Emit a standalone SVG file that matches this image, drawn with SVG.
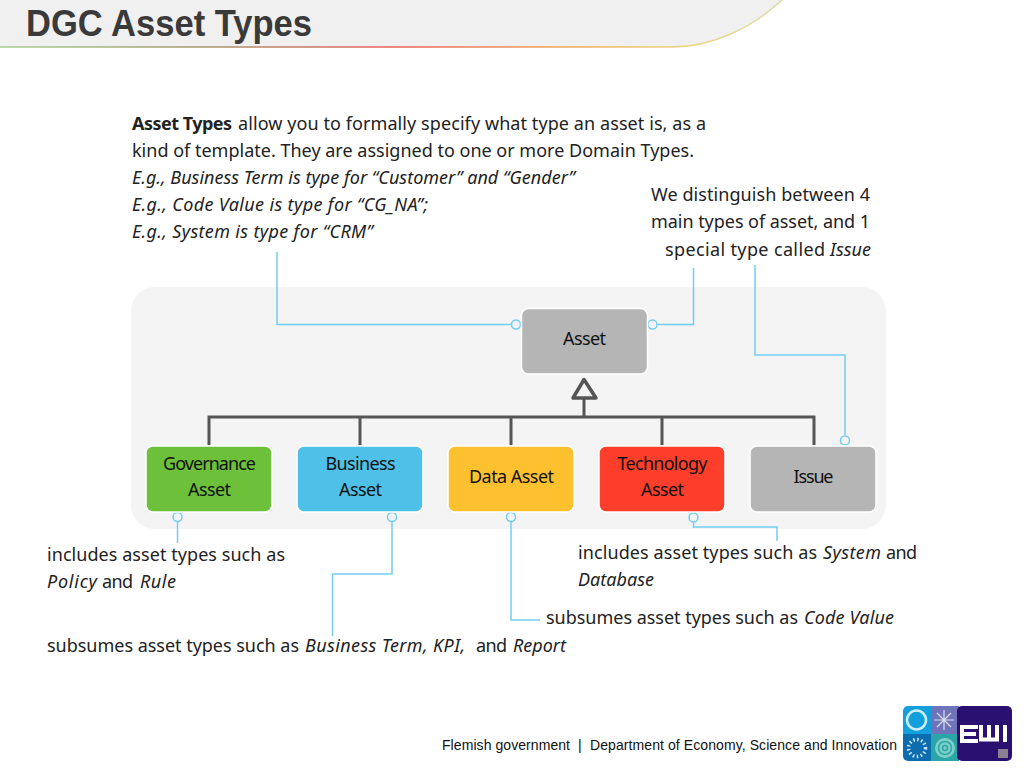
<svg xmlns="http://www.w3.org/2000/svg" width="1024" height="768" viewBox="0 0 1024 768">
<style>
text{font-family:"Noto Sans","Open Sans","DejaVu Sans",sans-serif;font-size:18px;fill:#222;}
.c{text-anchor:middle;fill:#111;}
.i{font-style:italic}
.b{font-weight:700}
.conn{fill:none;stroke:#72cdf4;stroke-width:1.5}
.dot{fill:#f4f4f4;stroke:#72cdf4;stroke-width:1.5}
.tree{fill:none;stroke:#555;stroke-width:3}
.node{stroke:#fff;stroke-width:1.5}
.foot{font-family:"Liberation Sans",sans-serif;font-size:14px;fill:#111}
</style>
<defs>
<linearGradient id="bar" x1="0" x2="1" y1="0" y2="0">
<stop offset="0" stop-color="#a6cf8e"/><stop offset=".25" stop-color="#a39a6c"/><stop offset=".5" stop-color="#e8605a"/><stop offset=".72" stop-color="#f2a654"/><stop offset=".88" stop-color="#ecd883"/><stop offset="1" stop-color="#dcdcaa"/>
</linearGradient>
</defs>
<rect width="1024" height="768" fill="#fff"/>
<g id="header">
<path d="M0 0H782C752 28 712 47 672 47H0Z" fill="#f0f0f0"/>
<path d="M0 47H672C712 47 752 28 782 0" fill="none" stroke="url(#bar)" stroke-width="1.600"/>
<text x="26" y="36" style="font-family:'Liberation Sans',sans-serif;font-weight:700;font-size:36px;fill:#3a3a3a" textLength="286" lengthAdjust="spacingAndGlyphs">DGC Asset Types</text>
</g>
<rect id="panel" x="131" y="287" width="755" height="242" rx="24" fill="#f4f4f4"/>
<g id="connectors">
<path class="tree" d="M584 416V398M209 445V417H814V445M360 417V445M511 417V445M662 417V445"/>
<path d="M584 379.500L573 398H596Z" fill="#f4f4f4" stroke="#555" stroke-width="3.500" stroke-linejoin="round"/>
<path class="conn" d="M277 252V324.500H511"/>
<path class="conn" d="M658 324.500H693.500V268"/>
<path class="conn" d="M755 265V355H845V435"/>
<path class="conn" d="M177.500 522V543"/>
<path class="conn" d="M392 522V574H332.500V636"/>
<path class="conn" d="M511 522V620H540"/>
<path class="conn" d="M693.500 523V527H777V541"/>
<circle class="dot" cx="516" cy="324.500" r="4.500"/>
<circle class="dot" cx="652.500" cy="324.500" r="4.500"/>
<circle class="dot" cx="845" cy="440.500" r="4.500"/>
<circle class="dot" cx="177.500" cy="517" r="4.500"/>
<circle class="dot" cx="392" cy="517" r="4.500"/>
<circle class="dot" cx="511" cy="517" r="4.500"/>
<circle class="dot" cx="693.500" cy="517.500" r="4.500"/>
</g>
<g id="asset"><rect class="node" x="521.500" y="308.500" width="126" height="65.500" rx="7" fill="#b5b5b5"/><text class="c" x="584.500" y="345" textLength="43">Asset</text></g>
<g id="governance"><rect class="node" x="146" y="446" width="126" height="66" rx="7" fill="#6cc03a"/><text class="c" x="209.500" y="470" textLength="93">Governance</text><text class="c" x="209.500" y="496" textLength="43">Asset</text></g>
<g id="business"><rect class="node" x="297" y="446" width="126" height="66" rx="7" fill="#4fc1e8"/><text class="c" x="360.500" y="470" textLength="70">Business</text><text class="c" x="360.500" y="496" textLength="43">Asset</text></g>
<g id="data"><rect class="node" x="448" y="446" width="126" height="66" rx="7" fill="#fdc02f"/><text class="c" x="511.500" y="483" textLength="85">Data Asset</text></g>
<g id="technology"><rect class="node" x="599" y="446" width="126" height="66" rx="7" fill="#fc3e2b"/><text class="c" x="662.500" y="470" textLength="90">Technology</text><text class="c" x="662.500" y="496" textLength="43">Asset</text></g>
<g id="issue"><rect class="node" x="750" y="446" width="126" height="66" rx="7" fill="#b5b5b5"/><text class="c" x="813.500" y="483" textLength="40">Issue</text></g>
<g id="notes">
<text class="b" x="132" y="130" textLength="100">Asset Types</text>
<text x="238" y="130" textLength="468">allow you to formally specify what type an asset is, as a</text>
<text x="132" y="157" textLength="562">kind of template. They are assigned to one or more Domain Types.</text>
<text class="i" x="132" y="184" textLength="443">E.g., Business Term is type for “Customer” and “Gender”</text>
<text class="i" x="132" y="211" textLength="296">E.g., Code Value is type for “CG_NA”;</text>
<text class="i" x="132" y="238" textLength="241">E.g., System is type for “CRM”</text>
<text x="651" y="201" textLength="219">We distinguish between 4</text>
<text x="651" y="228" textLength="219">main types of asset, and 1</text>
<text x="665" y="256" textLength="160">special type called</text>
<text class="i" x="830" y="256" textLength="41">Issue</text>
<text x="47" y="561" textLength="238">includes asset types such as</text>
<text class="i" x="47" y="588" textLength="50">Policy</text>
<text x="102" y="588" textLength="31">and</text>
<text class="i" x="140" y="588" textLength="36">Rule</text>
<text x="47" y="652" textLength="252">subsumes asset types such as</text>
<text class="i" x="305" y="652" textLength="160">Business Term, KPI,</text>
<text x="476" y="652" textLength="31">and</text>
<text class="i" x="513" y="652" textLength="53">Report</text>
<text x="546" y="624" textLength="252">subsumes asset types such as</text>
<text class="i" x="804" y="624" textLength="90">Code Value</text>
<text x="578" y="559" textLength="239">includes asset types such as</text>
<text class="i" x="823" y="559" textLength="58">System</text>
<text x="886" y="559" textLength="31">and</text>
<text class="i" x="578" y="586" textLength="76">Database</text>
</g>
<g id="footer">
<text class="foot" x="442" y="750" textLength="128">Flemish government</text>
<text class="foot" x="578" y="750">|</text>
<text class="foot" x="590" y="750" textLength="307">Department of Economy, Science and Innovation</text>
</g>
<g id="logo">
<path d="M931 706H908a5 5 0 0 0-5 5V734H931Z" fill="#12a0dc"/>
<rect x="931" y="706" width="28" height="28" fill="#6f73b8"/>
<path d="M903 734H931V761H908a5 5 0 0 1-5-5Z" fill="#0c6cb0"/>
<rect x="931" y="734" width="28" height="27" fill="#2aa6a8"/>
<rect x="957" y="706" width="55" height="55" rx="5" fill="#2a1070"/>
<circle cx="916.500" cy="720" r="9.500" fill="none" stroke="#cdeefa" stroke-width="2.500"/>
<path d="M944 710V730M934 720H954M937 713L951 727M951 713L937 727" stroke="#d8dcf0" stroke-width="1.200"/>
<circle cx="917" cy="748" r="8.500" fill="none" stroke="#cfe8f5" stroke-width="3.500" stroke-dasharray="1.500 2.500"/>
<circle cx="945" cy="748" r="10" fill="#7fcfc8"/>
<circle cx="945" cy="748" r="6.500" fill="none" stroke="#2aa6a8" stroke-width="1.500"/>
<circle cx="945" cy="748" r="2.500" fill="none" stroke="#2aa6a8" stroke-width="1.500"/>
<path d="M978 727H962V741H978M962 734H976M981 725V739.500H997V725M989 725V739.500M1005 725V742" fill="none" stroke="#fff" stroke-width="4"/>
<rect x="998" y="749" width="10" height="9" fill="#8a8090"/>
</g>
</svg>
